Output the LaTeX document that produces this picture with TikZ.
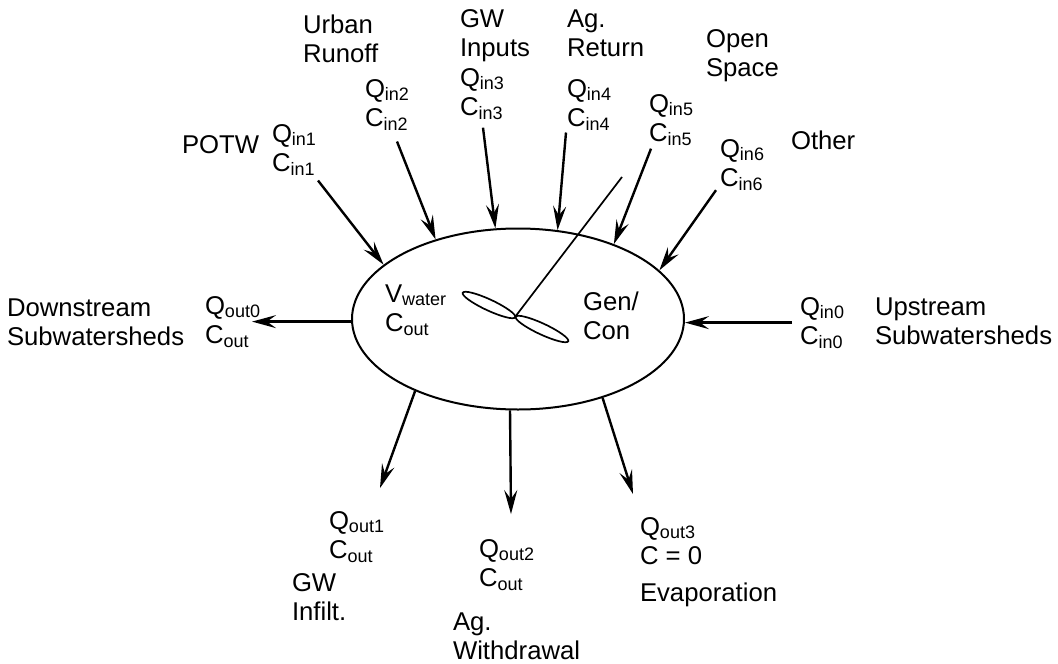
\documentclass[tikz,border=0pt]{standalone}
\usepackage{fontspec}
\setmainfont{Liberation Sans}
\usetikzlibrary{shapes.geometric,arrows.meta,calc}
% lowered, smaller index text
\newcommand\sub[1]{\raisebox{-3.5pt}{\fontsize{18}{18}\selectfont #1}}
% two lines whose reference point is the first baseline
\newcommand\twolines[2]{\vtop{\baselineskip=29.5pt\hbox{#1}\hbox{#2}}}
\begin{document}
\begin{tikzpicture}[x=1pt,y=-1pt,
  lbl/.style={anchor=base west,inner sep=0pt,outer sep=0pt,
    font=\fontsize{25.7}{29.5}\selectfont},
  flow/.style={line width=2.4pt,-{Stealth[length=24pt,width=13pt,inset=9pt]}},
  pool/.style={draw,ellipse,line width=2pt,minimum width=332pt,
    minimum height=181pt,inner sep=0pt},
  blade/.style={line width=1.7pt}]
\useasboundingbox (0,0) rectangle (1058,664);

% the water body
\node[pool] (pool) at (518,319) {};

% mixer: shaft and two blades
\draw[blade] (515,317) -- (622,177);
\draw[blade,shift={(489,305)},rotate=-25] (0,0) ellipse [x radius=29pt,y radius=5.5pt];
\draw[blade,shift={(542,329)},rotate=-25] (0,0) ellipse [x radius=29pt,y radius=5.5pt];

% labels inside
\node[lbl] (vol) at (385,302) {\twolines{V\sub{water}}{C\sub{out}}};
\node[lbl] (gen) at (583,310) {\twolines{Gen/}{Con}};

% inflow sources
\node[lbl] (potw)  at (182,153) {POTW};
\node[lbl] (qin1)  at (272,142) {\twolines{Q\sub{in1}}{C\sub{in1}}};
\node[lbl] (urban) at (303,33)  {\twolines{Urban}{Runoff}};
\node[lbl] (qin2)  at (365,97)  {\twolines{Q\sub{in2}}{C\sub{in2}}};
\node[lbl] (gwin)  at (460,27)  {\twolines{GW}{Inputs}};
\node[lbl] (qin3)  at (460,86)  {\twolines{Q\sub{in3}}{C\sub{in3}}};
\node[lbl] (agret) at (567,27)  {\twolines{Ag.}{Return}};
\node[lbl] (qin4)  at (567,97)  {\twolines{Q\sub{in4}}{C\sub{in4}}};
\node[lbl] (open)  at (706,47)  {\twolines{Open}{Space}};
\node[lbl] (qin5)  at (649,112) {\twolines{Q\sub{in5}}{C\sub{in5}}};
\node[lbl] (other) at (791,149) {Other};
\node[lbl] (qin6)  at (720,157) {\twolines{Q\sub{in6}}{C\sub{in6}}};
\node[lbl] (qin0)  at (800,315) {\twolines{Q\sub{in0}}{C\sub{in0}}};
\node[lbl] (up)    at (875,315) {\twolines{Upstream}{Subwatersheds}};

% outflows
\node[lbl] (down)  at (7,316)   {\twolines{Downstream}{Subwatersheds}};
\node[lbl] (qout0) at (205,314) {\twolines{Q\sub{out0}}{C\sub{out}}};
\node[lbl] (qout1) at (329,529) {\twolines{Q\sub{out1}}{C\sub{out}}};
\node[lbl] (gwinf) at (292,591) {\twolines{GW}{Infilt.}};
\node[lbl] (qout2) at (479,557) {\twolines{Q\sub{out2}}{C\sub{out}}};
\node[lbl] (agwd)  at (453,630) {\twolines{Ag.}{Withdrawal}};
\node[lbl] (qout3) at (640,535) {\twolines{Q\sub{out3}}{C = 0}};
\node[lbl] (evap)  at (640,601) {Evaporation};

% inflow arrows
\draw[flow] ($(qin1.south west)+(46,5.5)$) -- (pool.158);
\draw[flow] ($(qin2.south west)+(32,11.5)$) -- (pool.136);
\draw[flow] ($(qin3.south west)+(23,8.5)$) -- (pool.104.5);
\draw[flow] ($(qin4.south west)+(-1,2.5)$) -- (pool.66);
\draw[flow] ($(qin5.south west)+(2,3.5)$) -- (pool.38);
\draw[flow] ($(qin6.south west)+(-4,0)$) -- (pool.19);
\draw[flow] ([xshift=-8pt]qin0.west) -- (qin0.west -| pool.east);

% outflow arrows
\draw[flow] (qout0.east -| pool.west) -- ([xshift=-8pt]qout0.east);
\draw[flow] (pool.215.7) -- ($(qout1.north west)+(51,-23)$);
\draw[flow] (pool.265.6) -- ($(qout2.north west)+(32,-25)$);
\draw[flow] (pool.317.8) -- ($(qout3.north west)+(-7,-23)$);
\end{tikzpicture}
\end{document}
